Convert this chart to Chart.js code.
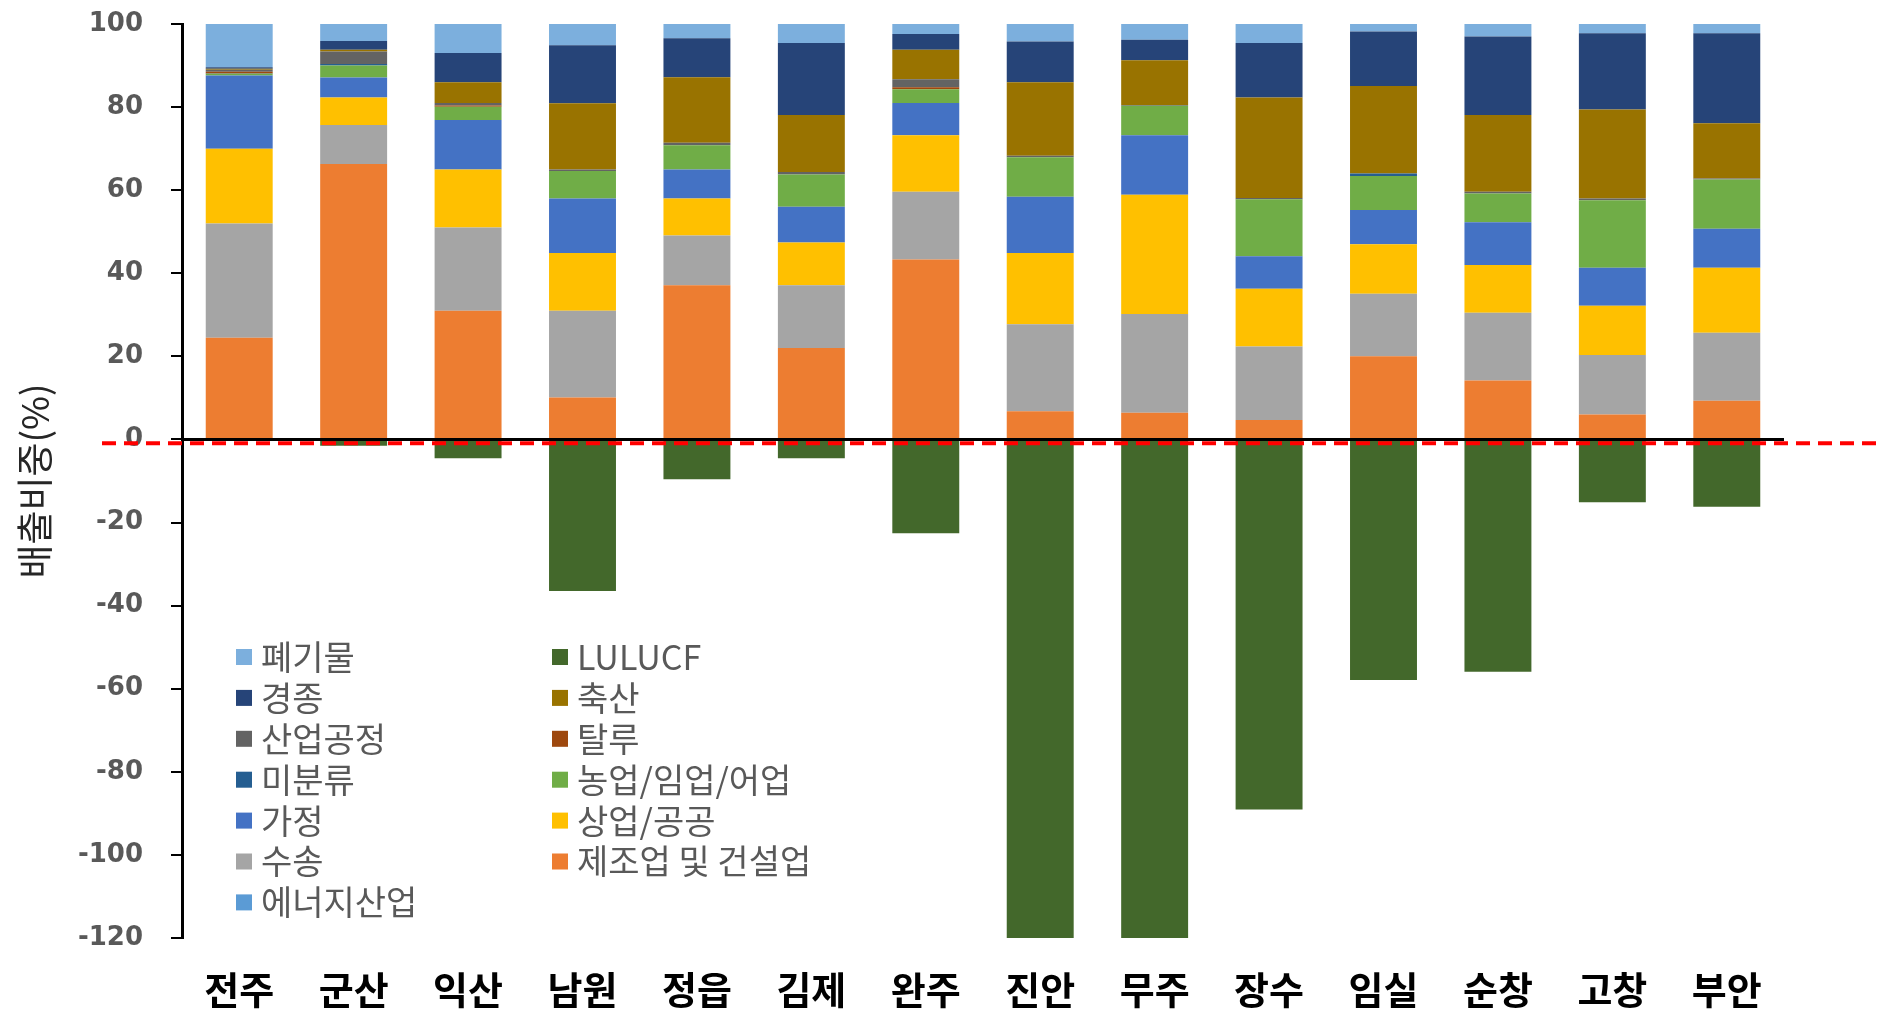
<!DOCTYPE html>
<html><head><meta charset="utf-8">
<script src="https://cdn.jsdelivr.net/npm/chart.js@4.4.1/dist/chart.umd.min.js"></script>
<style>html,body{margin:0;padding:0;background:#fff;overflow:hidden}#wrap{width:1880px;height:1010px;position:relative}</style>
</head><body><div id="wrap"><canvas id="c" width="1880" height="1010"></canvas></div>
<script>
const categories = ['전주','군산','익산','남원','정읍','김제','완주','진안','무주','장수','임실','순창','고창','부안'];
const energyIndustry    = [0,0,0,0,0,0,0,0,0,0,0,0,0,0];
const manufacturing     = [24.5,66.3,31.0,10.1,37.1,22.0,43.3,6.8,6.4,4.7,20.0,14.2,6.0,9.3];
const transport         = [27.5,9.4,20.0,20.9,12.0,15.1,16.3,20.9,23.8,17.7,15.1,16.3,14.3,16.4];
const commercial        = [18.0,6.6,14.0,13.9,8.9,10.3,13.6,17.2,28.7,13.9,11.9,11.5,11.9,15.6];
const household         = [17.6,4.8,11.9,13.1,7.0,8.6,7.8,13.5,14.3,7.8,8.2,10.3,9.1,9.4];
const agriculture       = [0.4,2.9,3.2,6.6,5.8,7.8,3.3,9.5,7.1,13.7,8.2,6.9,16.3,11.9];
const unclassified      = [0.1,0.4,0,0,0,0,0,0,0,0,0.6,0,0,0];
const fugitive          = [0.4,0,0.3,0,0,0,0.5,0,0,0,0,0,0,0];
const industrialProcess = [0.5,3.0,0.6,0.4,0.6,0.6,1.9,0.4,0.2,0.3,0,0.4,0.4,0.2];
const livestock         = [0.2,0.4,5.0,15.9,15.8,13.7,7.1,17.7,10.8,24.2,21.1,18.5,21.4,13.3];
const cropping          = [0.4,2.1,7.0,14.0,9.4,17.3,3.8,9.8,4.9,13.1,13.1,18.9,18.4,21.7];
const lulucf            = [0,-1.5,-4.5,-36.5,-9.6,-4.5,-22.6,-120,-120,-89.1,-57.9,-55.9,-15.1,-16.2];
const waste             = [10.4,4.1,7.0,5.1,3.4,4.6,2.4,4.2,3.8,4.6,1.8,3.0,2.2,2.2];
const yTickMin = -120, yTickMax = 100, yTickStep = 20;
const refLineValue = -0.9;
const yTitle = '배출비중(%)';

const series = [
  ['에너지산업', energyIndustry, '#5B9BD5'],
  ['제조업 및 건설업', manufacturing, '#ED7D31'],
  ['수송', transport, '#A5A5A5'],
  ['상업/공공', commercial, '#FFC000'],
  ['가정', household, '#4472C4'],
  ['농업/임업/어업', agriculture, '#70AD47'],
  ['미분류', unclassified, '#255E91'],
  ['탈루', fugitive, '#9E480E'],
  ['산업공정', industrialProcess, '#636363'],
  ['축산', livestock, '#997300'],
  ['경종', cropping, '#264478'],
  ['LULUCF', lulucf, '#43682B'],
  ['폐기물', waste, '#7CAFDD']
];

const overlay = {
  id: 'overlay',
  afterDatasetsDraw(chart) {
    const {ctx, chartArea: a, scales: {y}} = chart;
    const y0 = y.getPixelForValue(0);
    ctx.save();
    ctx.strokeStyle = '#000'; ctx.lineWidth = 3;
    ctx.beginPath(); ctx.moveTo(a.left, y0); ctx.lineTo(a.right, y0); ctx.stroke();
    const yr = y.getPixelForValue(refLineValue);
    ctx.strokeStyle = '#FF0000'; ctx.lineWidth = 4; ctx.setLineDash([14, 8]);
    ctx.beginPath(); ctx.moveTo(a.left - 80, yr); ctx.lineTo(chart.width, yr); ctx.stroke();
    ctx.restore();
  },
  afterDraw(chart) {
    const {ctx} = chart;
    const items = chart.data.datasets.map(d => ({text: d.label, color: d.backgroundColor})).reverse();
    ctx.save();
    ctx.font = '34px "Noto Sans CJK KR"';
    ctx.textBaseline = 'middle';
    ctx.textAlign = 'left';
    items.forEach((it, i) => {
      const col = i % 2, row = Math.floor(i / 2);
      const bx = col ? 552 : 236;
      const yc = 657 + row * 40.9;
      ctx.fillStyle = it.color;
      ctx.fillRect(bx, yc - 8, 16, 16);
      ctx.fillStyle = '#595959';
      ctx.fillText(it.text, bx + 25, yc);
    });
    ctx.restore();
  }
};

new Chart(document.getElementById('c'), {
  type: 'bar',
  data: {
    labels: categories,
    datasets: series.map(([label, data, color]) => ({
      label, data, backgroundColor: color, borderWidth: 0, stack: 's',
      categoryPercentage: 1, barPercentage: 0.585
    }))
  },
  options: {
    responsive: false,
    animation: false,
    devicePixelRatio: 1,
    layout: {autoPadding: false, padding: {top: 24, right: 96, left: 0, bottom: 0}},
    plugins: {legend: {display: false}, tooltip: {enabled: false}},
    scales: {
      x: {
        stacked: true,
        grid: {display: false, drawTicks: false},
        border: {display: false},
        ticks: {color: '#000', font: {family: '"Noto Sans CJK KR"', size: 38, weight: 'bold'}, padding: 29, maxRotation: 0, autoSkip: false},
        afterFit(s) { s.height = 72; s.paddingLeft = 0; s.paddingRight = 0; }
      },
      y: {
        stacked: true,
        min: yTickMin, max: yTickMax,
        ticks: {stepSize: yTickStep, color: '#595959', font: {family: '"DejaVu Sans"', size: 26, weight: 'bold'}, padding: 28},
        grid: {drawOnChartArea: false, drawTicks: true, tickLength: 11, color: '#000', lineWidth: 2},
        border: {display: true, color: '#000', width: 3},
        title: {display: true, text: yTitle, color: '#262626', font: {family: '"Noto Sans CJK KR"', size: 37}, padding: {top: 13, bottom: 0}},
        afterFit(s) { s.width = 182; s.paddingTop = 0; s.paddingBottom = 0; }
      }
    }
  },
  plugins: [overlay]
});
</script></body></html>
